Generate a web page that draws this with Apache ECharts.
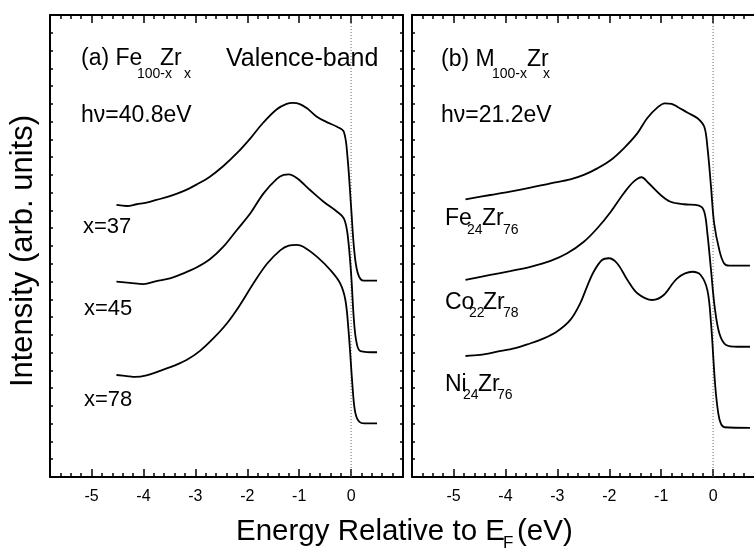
<!DOCTYPE html>
<html>
<head>
<meta charset="utf-8">
<script src="https://cdn.jsdelivr.net/npm/echarts@6/dist/echarts.min.js"></script>
<style>
  html, body { margin: 0; padding: 0; background: #fff; }
  #chart { width: 754px; height: 550px; }
</style>
</head>
<body>
<div id="chart"></div>
<script>
// Valence-band photoemission spectra, energy in eV relative to E_F, intensity in arbitrary units.
const energyTicks = [-5, -4, -3, -2, -1, 0];
const fermiLine = [[0, 0], [0, 26]];

// (a) Fe(100-x)Zr(x), hv = 40.8 eV
const feZr37 = [[-4.52,15.31],[-4.32,15.25],[-4.13,15.35],[-3.94,15.44],[-3.75,15.59],[-3.49,15.81],[-3.23,16.09],[-2.97,16.47],[-2.72,16.90],[-2.46,17.50],[-2.20,18.22],[-1.94,19.06],[-1.69,19.95],[-1.43,20.70],[-1.24,21.00],[-1.12,21.05],[-1.00,21.00],[-0.85,20.75],[-0.66,20.28],[-0.46,19.96],[-0.27,19.71],[-0.14,19.43],[-0.07,18.03],[0.0,15.21],[0.06,12.77],[0.13,11.46],[0.24,11.05],[0.50,11.05]];
const feZr45 = [[-4.52,10.99],[-4.26,10.93],[-4.00,10.86],[-3.75,11.03],[-3.49,11.18],[-3.23,11.46],[-2.97,11.80],[-2.72,12.25],[-2.46,12.96],[-2.20,13.90],[-1.94,14.84],[-1.69,15.95],[-1.43,16.78],[-1.30,17.00],[-1.20,17.03],[-1.04,16.81],[-0.79,16.15],[-0.53,15.49],[-0.27,14.93],[-0.14,14.56],[-0.07,13.71],[0.0,11.46],[0.05,9.02],[0.10,7.65],[0.18,7.09],[0.50,7.02]];
const feZr78 = [[-4.52,5.74],[-4.32,5.68],[-4.16,5.63],[-3.94,5.72],[-3.68,5.97],[-3.42,6.25],[-3.17,6.58],[-2.91,7.10],[-2.65,7.81],[-2.39,8.65],[-2.14,9.68],[-1.88,10.90],[-1.62,12.00],[-1.36,12.77],[-1.20,13.02],[-1.05,13.06],[-0.92,12.96],[-0.66,12.40],[-0.40,11.65],[-0.21,10.90],[-0.11,9.96],[-0.05,8.27],[0.02,5.40],[0.06,4.00],[0.10,3.40],[0.16,3.10],[0.25,3.02],[0.50,3.02]];

// (b) M(100-x)Zr(x), hv = 21.2 eV
const fe24Zr76 = [[-4.77,15.63],[-4.29,15.87],[-3.91,16.06],[-3.52,16.28],[-3.13,16.53],[-2.75,16.75],[-2.49,17.00],[-2.23,17.37],[-1.97,17.84],[-1.72,18.50],[-1.46,19.34],[-1.27,20.19],[-1.07,20.80],[-0.93,21.03],[-0.80,21.00],[-0.69,20.84],[-0.49,20.50],[-0.30,20.19],[-0.17,19.71],[-0.11,18.59],[-0.04,16.34],[0.02,14.28],[0.12,12.77],[0.21,12.03],[0.31,11.89],[0.71,11.89]];
const co22Zr78 = [[-4.77,11.09],[-4.29,11.37],[-3.91,11.59],[-3.52,11.83],[-3.13,12.16],[-2.81,12.59],[-2.49,13.24],[-2.23,14.00],[-1.97,14.93],[-1.72,15.97],[-1.53,16.62],[-1.38,16.87],[-1.24,16.53],[-1.01,15.87],[-0.82,15.49],[-0.56,15.35],[-0.27,15.27],[-0.17,14.93],[-0.11,13.71],[-0.04,11.65],[0.03,9.58],[0.12,8.09],[0.25,7.43],[0.47,7.33],[0.71,7.33]];
const ni24Zr76 = [[-4.77,6.81],[-4.49,6.87],[-4.16,7.05],[-3.81,7.25],[-3.58,7.46],[-3.26,7.80],[-3.00,8.20],[-2.75,8.84],[-2.56,9.77],[-2.43,10.70],[-2.30,11.55],[-2.14,12.21],[-2.01,12.31],[-1.85,12.03],[-1.65,11.09],[-1.46,10.34],[-1.17,9.96],[-0.95,10.24],[-0.69,11.18],[-0.40,11.55],[-0.24,11.37],[-0.11,10.52],[-0.04,8.65],[0.04,5.18],[0.10,3.58],[0.15,3.00],[0.22,2.80],[0.71,2.77]];

const FONT = '"Liberation Sans", Arial, Helvetica, sans-serif';
const BLACK = '#000';

function xAxesFor(gi) {
  const base = { gridIndex: gi, type: 'value', min: -5.8, max: 1.0, splitLine: { show: false } };
  const minor = (position, withLabels) => Object.assign({}, base, {
    position,
    interval: 0.2,
    axisLine: { show: true, onZero: false, lineStyle: { color: BLACK, width: 2 } },
    axisTick: { show: true, inside: true, length: 4, lineStyle: { color: BLACK, width: 1.5 } },
    axisLabel: withLabels ? {
      show: true, margin: 12, fontSize: 16, color: BLACK, fontFamily: FONT,
      formatter: v => {
        const r = Math.round(v * 10) / 10;
        return energyTicks.includes(r) ? String(r) : '';
      }
    } : { show: false }
  });
  const major = position => Object.assign({}, base, {
    position,
    axisLine: { show: false, onZero: false },
    axisTick: { show: true, inside: true, length: 8, customValues: energyTicks, lineStyle: { color: BLACK, width: 1.5 } },
    axisLabel: { show: false }
  });
  return [minor('bottom', true), major('bottom'), minor('top', false), major('top')];
}

function yAxesFor(gi) {
  const mk = position => ({
    gridIndex: gi, type: 'value', position, min: 0, max: 26, interval: 1,
    axisLine: { show: true, onZero: false, lineStyle: { color: BLACK, width: 2 } },
    axisTick: { show: true, inside: true, length: 3, lineStyle: { color: BLACK, width: 1.5 } },
    axisLabel: { show: false },
    splitLine: { show: false }
  });
  return [mk('left'), mk('right')];
}

function curve(data, gi) {
  return {
    type: 'line', data, xAxisIndex: gi * 4, yAxisIndex: gi * 2,
    showSymbol: false, smooth: 0.35, clip: true,
    lineStyle: { color: BLACK, width: 1.8 },
    silent: true, z: 3
  };
}

// dotted marker at the Fermi level
function fermi(gi) {
  return {
    type: 'line', data: fermiLine, xAxisIndex: gi * 4, yAxisIndex: gi * 2,
    showSymbol: false, silent: true, z: 2,
    lineStyle: { color: '#666', width: 1, type: [1, 2] }
  };
}

function txt(text, x, y, size, extra) {
  return Object.assign({
    type: 'text', x, y, silent: true,
    style: { text, font: size + 'px ' + FONT, fill: BLACK, align: 'left', verticalAlign: 'middle' }
  }, extra || {});
}

const labels = [
  txt('(a) Fe', 81, 59, 23), txt('100-x', 137, 74, 14), txt('Zr', 160, 59, 23), txt('x', 184, 74, 14),
  txt('Valence-band', 226, 59, 25),
  txt('h\u03bd=40.8eV', 81, 116, 23),
  txt('x=37', 83, 227, 22), txt('x=45', 84, 309, 22), txt('x=78', 84, 400, 22),

  txt('(b) M', 441, 60, 23), txt('100-x', 492, 74, 14), txt('Zr', 527, 60, 23), txt('x', 543, 74, 14),
  txt('h\u03bd=21.2eV', 441, 116, 23),
  txt('Fe', 445, 219, 23), txt('24', 467, 230, 14), txt('Zr', 482, 219, 23), txt('76', 503, 230, 14),
  txt('Co', 445, 303, 23), txt('22', 469, 313, 14), txt('Zr', 483, 303, 23), txt('78', 503, 313, 14),
  txt('Ni', 445, 385, 23), txt('24', 463, 395, 14), txt('Zr', 478, 385, 23), txt('76', 497, 395, 14),

  txt('Energy Relative to E', 236, 532, 29.5), txt('F', 503, 543, 17), txt('(eV)', 517, 532, 29.5),
  {
    type: 'text', x: 23, y: 251, rotation: Math.PI / 2, silent: true,
    style: { text: 'Intensity (arb. units)', font: '31px ' + FONT, fill: BLACK, align: 'center', verticalAlign: 'middle' }
  }
];

const chart = echarts.init(document.getElementById('chart'), null, { renderer: 'canvas' });
chart.setOption({
  backgroundColor: '#fff',
  animation: false,
  grid: [
    { left: 50, top: 15, width: 353, height: 462, outerBoundsMode: 'none', containLabel: false },
    { left: 412, top: 15, width: 353, height: 462, outerBoundsMode: 'none', containLabel: false }
  ],
  xAxis: xAxesFor(0).concat(xAxesFor(1)),
  yAxis: yAxesFor(0).concat(yAxesFor(1)),
  series: [
    fermi(0), curve(feZr37, 0), curve(feZr45, 0), curve(feZr78, 0),
    fermi(1), curve(fe24Zr76, 1), curve(co22Zr78, 1), curve(ni24Zr76, 1)
  ],
  graphic: labels
});
</script>
</body>
</html>
